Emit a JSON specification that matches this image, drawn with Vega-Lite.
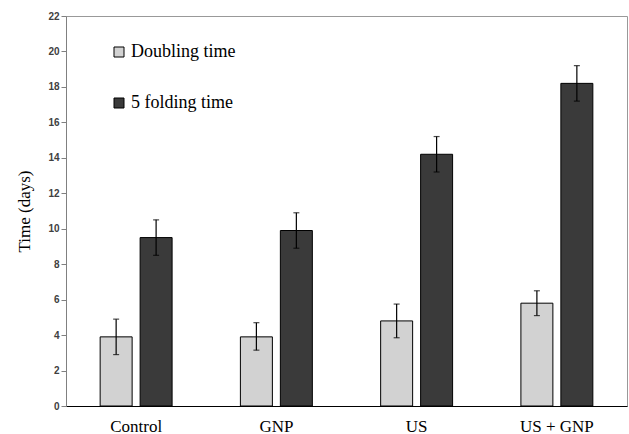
{
  "$schema": "https://vega.github.io/schema/vega-lite/v6.json",
  "width": 561,
  "height": 390,
  "autosize": {"type": "none"},
  "padding": {"left": 66, "top": 16, "right": 2, "bottom": 28},
  "background": "white",
  "config": {
    "view": {"stroke": "#999999", "strokeWidth": 1},
    "font": "Liberation Serif",
    "axisY": {
      "titleFont": "Liberation Serif",
      "titleFontSize": 17,
      "titleFontWeight": "normal",
      "titleColor": "#000000",
      "titlePadding": 14,
      "labelOverlap": false,
      "labelFont": "Liberation Sans",
      "labelFontSize": 10,
      "labelFontWeight": "bold",
      "labelColor": "#404040",
      "tickColor": "#808080",
      "tickSize": 5,
      "domainColor": "#808080",
      "grid": false
    }
  },
  "data": {
    "values": [
      {"group": "Control", "series": "Doubling time", "value": 3.9, "lo": 2.9, "hi": 4.9},
      {"group": "Control", "series": "5 folding time", "value": 9.5, "lo": 8.5, "hi": 10.5},
      {"group": "GNP", "series": "Doubling time", "value": 3.9, "lo": 3.15, "hi": 4.7},
      {"group": "GNP", "series": "5 folding time", "value": 9.9, "lo": 8.9, "hi": 10.9},
      {"group": "US", "series": "Doubling time", "value": 4.8, "lo": 3.85, "hi": 5.75},
      {"group": "US", "series": "5 folding time", "value": 14.2, "lo": 13.2, "hi": 15.2},
      {"group": "US + GNP", "series": "Doubling time", "value": 5.8, "lo": 5.1, "hi": 6.5},
      {"group": "US + GNP", "series": "5 folding time", "value": 18.2, "lo": 17.2, "hi": 19.2}
    ]
  },
  "encoding": {
    "x": {
      "field": "group",
      "type": "nominal",
      "sort": ["Control", "GNP", "US", "US + GNP"],
      "scale": {"paddingInner": 0.487, "paddingOuter": 0.2435},
      "axis": {
        "title": null,
        "labelAngle": 0,
        "labelFont": "Liberation Serif",
        "labelFontSize": 17,
        "labelColor": "#000000",
        "ticks": false,
        "labelPadding": 12,
        "domainColor": "#000000",
        "domainWidth": 1.2
      }
    },
    "xOffset": {
      "field": "series",
      "type": "nominal",
      "sort": ["Doubling time", "5 folding time"],
      "scale": {"paddingInner": 0.2, "paddingOuter": 0}
    }
  },
  "layer": [
    {
      "mark": {"type": "bar", "stroke": "#000000", "strokeWidth": 1},
      "encoding": {
        "y": {
          "field": "value",
          "type": "quantitative",
          "scale": {"domain": [0, 22], "nice": false},
          "axis": {"title": "Time (days)", "values": [0, 2, 4, 6, 8, 10, 12, 14, 16, 18, 20, 22]}
        },
        "fill": {
          "field": "series",
          "type": "nominal",
          "sort": ["Doubling time", "5 folding time"],
          "scale": {"domain": ["Doubling time", "5 folding time"], "range": ["#d2d2d2", "#3a3a3a"]},
          "legend": {
            "title": null,
            "orient": "none",
            "legendX": 44,
            "legendY": 27,
            "symbolType": "square",
            "symbolSize": 100,
            "symbolStrokeColor": "#000000",
            "symbolStrokeWidth": 1,
            "labelFont": "Liberation Serif",
            "labelFontSize": 18,
            "labelColor": "#000000",
            "labelOffset": 3,
            "rowPadding": 33
          }
        }
      }
    },
    {
      "mark": {"type": "rule", "color": "#000000", "strokeWidth": 1.2},
      "encoding": {
        "y": {"field": "lo", "type": "quantitative", "axis": {"title": "Time (days)", "values": [0, 2, 4, 6, 8, 10, 12, 14, 16, 18, 20, 22]}},
        "y2": {"field": "hi"}
      }
    },
    {
      "mark": {"type": "tick", "color": "#000000", "orient": "horizontal", "size": 6, "thickness": 1.2},
      "encoding": {"y": {"field": "hi", "type": "quantitative", "axis": {"title": "Time (days)", "values": [0, 2, 4, 6, 8, 10, 12, 14, 16, 18, 20, 22]}}}
    },
    {
      "mark": {"type": "tick", "color": "#000000", "orient": "horizontal", "size": 6, "thickness": 1.2},
      "encoding": {"y": {"field": "lo", "type": "quantitative", "axis": {"title": "Time (days)", "values": [0, 2, 4, 6, 8, 10, 12, 14, 16, 18, 20, 22]}}}
    }
  ]
}
